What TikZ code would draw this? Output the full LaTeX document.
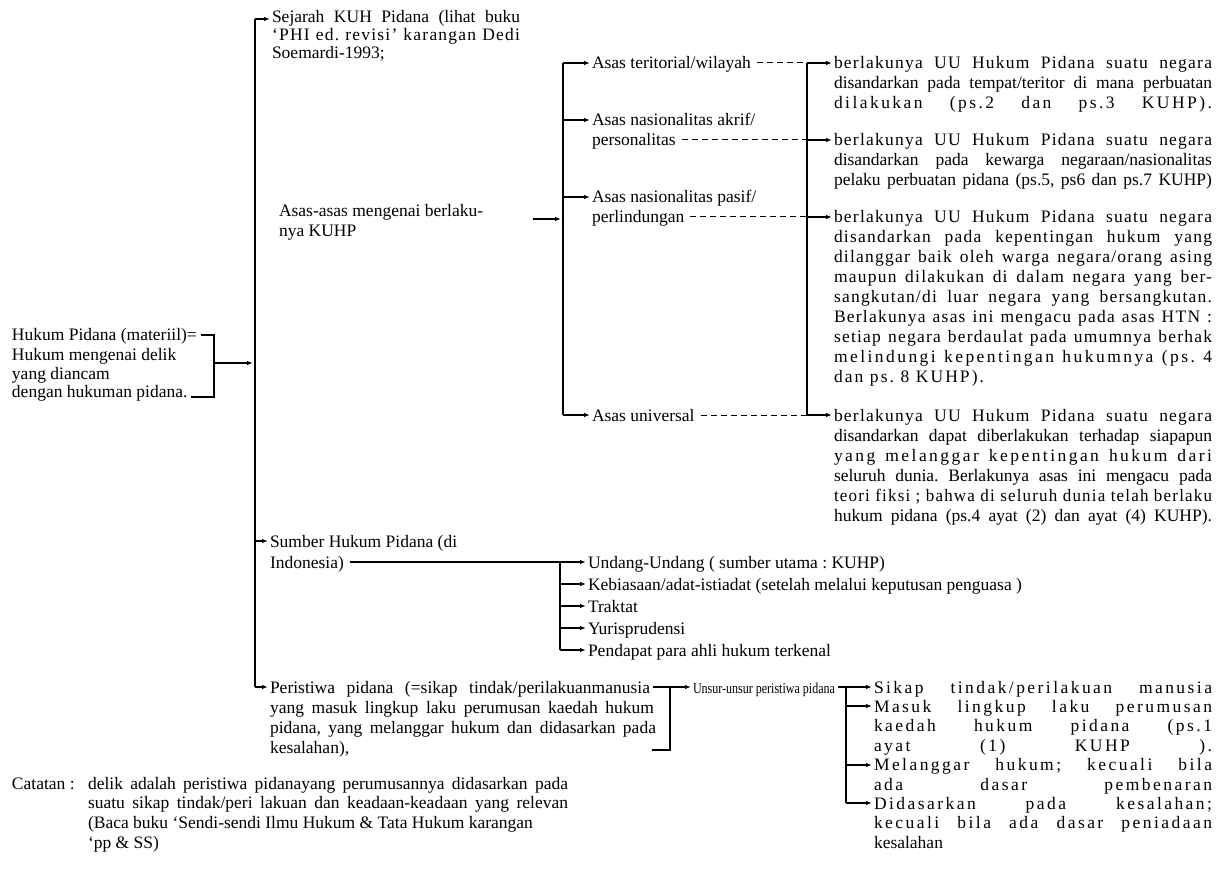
\documentclass[tikz,border=0pt]{standalone}
\usepackage{fontspec}
\usepackage{graphicx}
\setmainfont{Liberation Serif}
\usetikzlibrary{arrows.meta,calc}
\frenchspacing
\newsavebox\jlbox
\newcommand\jlfit[2]{\ifdim\wd\jlbox>#1\relax\resizebox{#1}{\height}{\usebox\jlbox}\else\makebox[#1][s]{#2}\fi}
\newcommand\jl[2]{%
  \sbox\jlbox{#2}%
  \ifdim\wd\jlbox<\dimexpr#1*78/100\relax
    \sbox\jlbox{\addfontfeatures{LetterSpace=14}#2}\jlfit{#1}{\addfontfeatures{LetterSpace=14}#2}%
  \else\ifdim\wd\jlbox<\dimexpr#1*90/100\relax
    \sbox\jlbox{\addfontfeatures{LetterSpace=7}#2}\jlfit{#1}{\addfontfeatures{LetterSpace=7}#2}%
  \else
    \jlfit{#1}{#2}%
  \fi\fi}
\newcommand\J[1]{\jl{378pt}{#1}}
\newcommand\K[1]{\jl{340pt}{#1}}
\newcommand\lines[1]{\begin{tabular}[t]{@{}l@{}}#1\end{tabular}}
\newcommand\fsz[1]{\fontsize{17.5}{#1}\selectfont}
\newcommand\spc[1]{{\addfontfeatures{LetterSpace=12}#1}}
\begin{document}
\begin{tikzpicture}[x=1pt,y=-1pt,
  txt/.style={anchor=base west,inner sep=0pt,outer sep=0pt},
  ln/.style={line width=1.2pt},
  arr/.style={line width=1.2pt,-{Latex[length=6pt,width=4.5pt]},shorten >=2pt},
  dsh/.style={line width=1pt,dash pattern=on 6pt off 4pt}]
\useasboundingbox (0,0) rectangle (1216,877);

% ---------- text nodes ----------
\node[txt,font=\fsz{18}] (sej) at (272,23) {\lines{\jl{248pt}{Sejarah KUH Pidana (lihat buku}\\\jl{248pt}{`PHI ed. revisi' karangan Dedi}\\Soemardi-1993;}};
\node[txt,font=\fsz{20}] (asas) at (279,217) {\lines{Asas-asas mengenai berlaku-\\nya KUHP}};

\node[txt,font=\fsz{20}] (ter) at (592,69) {Asas teritorial/wilayah};
\node[txt,font=\fsz{20}] (akr1) at (592,126) {Asas nasionalitas akrif/};
\node[txt,font=\fsz{20}] (akr2) at (592,146) {personalitas};
\node[txt,font=\fsz{20}] (pas1) at (592,203) {Asas nasionalitas pasif/};
\node[txt,font=\fsz{20}] (pas2) at (592,223) {perlindungan};
\node[txt,font=\fsz{20}] (uni) at (592,421) {Asas universal};

\node[txt,font=\fsz{20}] (b1) at (834,69) {\lines{\J{berlakunya UU Hukum Pidana suatu negara}\\\J{disandarkan pada tempat/teritor di mana perbuatan}\\\J{dilakukan (ps.2 dan ps.3 KUHP).}}};
\node[txt,font=\fsz{20}] (b2) at (834,146) {\lines{\J{berlakunya UU Hukum Pidana suatu negara}\\\J{disandarkan pada kewarga negaraan/nasionalitas}\\\J{pelaku perbuatan pidana (ps.5, ps6 dan ps.7 KUHP)}}};
\node[txt,font=\fsz{20}] (b3) at (834,223) {\lines{\J{berlakunya UU Hukum Pidana suatu negara}\\\J{disandarkan pada kepentingan hukum yang}\\\J{dilanggar baik oleh warga negara/orang asing}\\\J{maupun dilakukan di dalam negara yang ber-}\\\J{sangkutan/di luar negara yang bersangkutan.}\\\J{Berlakunya asas ini mengacu pada asas HTN :}\\\J{setiap negara berdaulat pada umumnya berhak}\\\J{melindungi kepentingan hukumnya (ps. 4}\\\spc{dan ps. 8 KUHP).}}};
\node[txt,font=\fsz{20}] (b4) at (834,421) {\lines{\J{berlakunya UU Hukum Pidana suatu negara}\\\J{disandarkan dapat diberlakukan terhadap siapapun}\\\J{yang melanggar kepentingan hukum dari}\\\J{seluruh dunia. Berlakunya asas ini mengacu pada}\\\J{teori fiksi ; bahwa di seluruh dunia telah berlaku}\\\J{hukum pidana (ps.4 ayat (2) dan ayat (4) KUHP).}}};

\node[txt,font=\fsz{19}] (hp1) at (12,341) {Hukum Pidana (materiil)=};
\node[txt,font=\fsz{19}] (hp2) at (12,360) {\lines{Hukum mengenai delik\\yang diancam\\dengan hukuman pidana.}};

\node[txt,font=\fsz{21}] (sum1) at (270,547) {Sumber Hukum Pidana (di};
\node[txt,font=\fsz{21}] (sum2) at (270,568) {Indonesia)};
\node[txt,font=\fsz{20}] (s1) at (588,568) {Undang-Undang ( sumber utama : KUHP)};
\node[txt,font=\fsz{20}] (s2) at (588,590) {Kebiasaan/adat-istiadat (setelah melalui keputusan penguasa )};
\node[txt,font=\fsz{20}] (s3) at (588,612) {Traktat};
\node[txt,font=\fsz{20}] (s4) at (588,634) {Yurisprudensi};
\node[txt,font=\fsz{20}] (s5) at (588,656) {Pendapat para ahli hukum terkenal};

\node[txt,font=\fsz{20}] (per1) at (270,693) {\jl{380pt}{Peristiwa pidana (=sikap tindak/perilakuanmanusia}};
\node[txt,font=\fsz{20}] (per2) at (270,713) {\lines{\jl{384pt}{yang masuk lingkup laku perumusan kaedah hukum}\\\jl{386pt}{pidana, yang melanggar hukum dan didasarkan pada}\\kesalahan),}};
\node[txt,font=\fontsize{15}{18}\selectfont] (uns) at (693,693) {\resizebox{142pt}{\height}{Unsur-unsur peristiwa pidana}};

\node[txt,font=\fsz{19.4}] (sik) at (874,693) {\jl{338pt}{Sikap tindak/perilakuan manusia}};
\node[txt,font=\fsz{19.4}] (mas) at (874,712.4) {\lines{\jl{338pt}{Masuk lingkup laku perumusan}\\\jl{338pt}{kaedah hukum pidana (ps.1}\\\jl{338pt}{ayat (1) KUHP ).}}};
\node[txt,font=\fsz{19.4}] (mel) at (874,770.6) {\lines{\jl{338pt}{Melanggar hukum; kecuali bila}\\\jl{338pt}{ada dasar pembenaran}}};
\node[txt,font=\fsz{19.4}] (did) at (874,809.4) {\lines{\jl{338pt}{Didasarkan pada kesalahan;}\\\jl{338pt}{kecuali bila ada dasar peniadaan}\\kesalahan}};

\node[txt,font=\fsz{19.7}] (cat) at (12,789) {Catatan :};
\node[txt,font=\fsz{19.7}] (catx) at (88,789) {\lines{\jl{480pt}{delik adalah peristiwa pidanayang perumusannya didasarkan pada}\\\jl{480pt}{suatu sikap tindak/peri lakuan dan keadaan-keadaan yang relevan}\\(Baca buku `Sendi-sendi Ilmu Hukum \& Tata Hukum karangan\\`pp \& SS)}};

% ---------- coordinates ----------
\coordinate (mT) at (255,19);
\coordinate (mH) at (255,363);
\coordinate (mS) at (255,541);
\coordinate (mB) at (255,687);
\coordinate (hpT) at (214,335);
\coordinate (hpM) at (214,363);
\coordinate (hpB) at (214,397);
\coordinate (aA) at (533,219);
\coordinate (aB) at (563,219);
\coordinate (aT) at (563,63);
\coordinate (aK) at (563,120);
\coordinate (aP) at (563,197);
\coordinate (aU) at (563,415);
\coordinate (rT) at (807,63);
\coordinate (rK) at (807,140);
\coordinate (rP) at (807,217);
\coordinate (rU) at (807,415);
\coordinate (sB) at (560,562);
\coordinate (sK) at (560,584);
\coordinate (sR) at (560,606);
\coordinate (sY) at (560,628);
\coordinate (sE) at (560,650);
\coordinate (pT) at (670,687);
\coordinate (pB) at (670,750);
\coordinate (uT) at (846,687);
\coordinate (uM) at (846,706);
\coordinate (uL) at (846,765);
\coordinate (uD) at (846,803);

% ---------- main trunk ----------
\draw[ln] (mT) -- (mB);
\draw[arr] (mT) -- (sej.west |- mT);
\draw[ln] ($(hp1.east |- hpT)+(4,0)$) -- (hpT) -- (hpB) -- ($(hp2.east |- hpB)+(4,0)$);
\draw[arr] (hpM) -- (mH);
\draw[arr] (mS) -- (sum1.west |- mS);
\draw[arr] (mB) -- (per1.west |- mB);

% ---------- asas ----------
\draw[arr] (aA) -- (aB);
\draw[ln] (aT) -- (aU);
\draw[arr] (aT) -- (ter.west |- aT);
\draw[arr] (aK) -- (akr1.west |- aK);
\draw[arr] (aP) -- (pas1.west |- aP);
\draw[arr] (aU) -- (uni.west |- aU);
\draw[dsh] ($(ter.east |- rT)+(6,0)$) -- ($(rT)+(-3,0)$);
\draw[dsh] ($(akr2.east |- rK)+(6,0)$) -- (rK);
\draw[dsh] ($(pas2.east |- rP)+(6,0)$) -- (rP);
\draw[dsh] ($(uni.east |- rU)+(6,0)$) -- (rU);
\draw[ln] (rT) -- (rU);
\draw[arr] (rT) -- (b1.west |- rT);
\draw[arr] (rK) -- (b2.west |- rK);
\draw[arr] (rP) -- (b3.west |- rP);
\draw[arr] (rU) -- (b4.west |- rU);

% ---------- sumber ----------
\draw[ln] ($(sum2.east |- sB)+(6,0)$) -- (sB);
\draw[ln] (sB) -- (sE);
\draw[arr] (sB) -- (s1.west |- sB);
\draw[arr] (sK) -- (s2.west |- sK);
\draw[arr] (sR) -- (s3.west |- sR);
\draw[arr] (sY) -- (s4.west |- sY);
\draw[arr] (sE) -- (s5.west |- sE);

% ---------- peristiwa ----------
\draw[ln] ($(per1.east |- pT)+(3,0)$) -- (pT) -- (pB) -- ($(pB)+(-18,0)$);
\draw[arr] (pT) -- (uns.west |- pT);
\draw[ln] ($(uns.east |- uT)+(3,0)$) -- (uT);
\draw[ln] (uT) -- (uD);
\draw[arr] (uT) -- (sik.west |- uT);
\draw[arr] (uM) -- (mas.west |- uM);
\draw[arr] (uL) -- (mel.west |- uL);
\draw[arr] (uD) -- (did.west |- uD);
\end{tikzpicture}
\end{document}
